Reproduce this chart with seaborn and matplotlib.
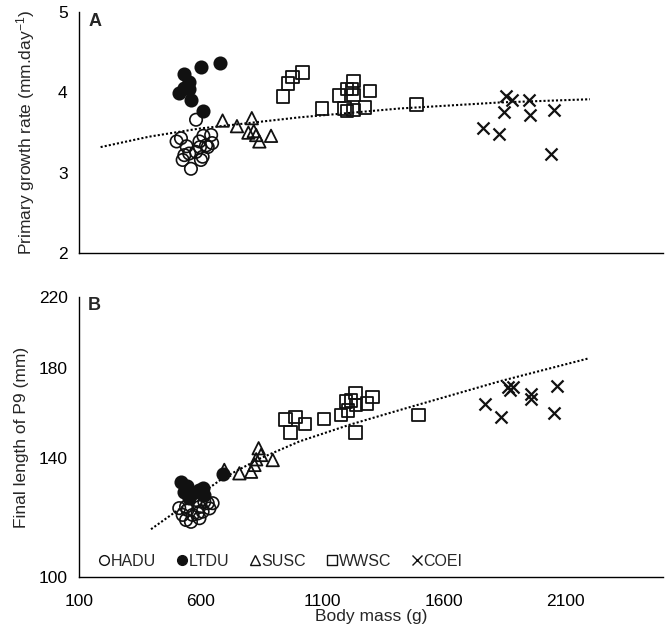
import numpy as np
import pandas as pd
import matplotlib
matplotlib.use("Agg")
import matplotlib.pyplot as plt
from matplotlib.lines import Line2D
from matplotlib.ticker import FixedLocator, FixedFormatter, NullLocator
import seaborn as sns

sns.set_style("white")
plt.rcParams['font.family'] = ['Liberation Sans', 'DejaVu Sans']

# ---------------- Data ----------------
species = ["HADU", "LTDU", "SUSC", "WWSC", "COEI"]

# Panel A: primary growth rate (mm/day)
hadu_mass_a = [582, 502, 520, 543, 596, 612, 644, 648, 598, 630, 534, 554, 582, 527, 609, 602, 561, 623]
hadu_rate_a = [3.66, 3.39, 3.43, 3.33, 3.39, 3.46, 3.47, 3.37, 3.32, 3.32, 3.22, 3.24, 3.26, 3.16, 3.20, 3.16, 3.05, 3.34]

ltdu_mass_a = [682, 602, 534, 551, 534, 554, 513, 561, 612]
ltdu_rate_a = [4.37, 4.31, 4.23, 4.13, 4.06, 4.04, 3.99, 3.91, 3.77]

susc_mass_a = [691, 750, 811, 797, 819, 829, 842, 890]
susc_rate_a = [3.65, 3.58, 3.68, 3.50, 3.52, 3.47, 3.39, 3.46]

wwsc_mass_a = [1020, 979, 959, 938, 1100, 1229, 1201, 1222, 1168, 1229, 1297, 1192, 1201, 1229, 1277, 1487]
wwsc_rate_a = [4.25, 4.19, 4.11, 3.95, 3.80, 4.14, 4.04, 4.04, 3.96, 3.97, 4.02, 3.80, 3.77, 3.78, 3.81, 3.85]

coei_mass_a = [1857, 1880, 1948, 1847, 1952, 2052, 1760, 1825, 2042]
coei_rate_a = [3.95, 3.90, 3.90, 3.76, 3.72, 3.78, 3.56, 3.48, 3.23]

trend_mass_a = [190, 390, 595, 1007, 1418, 1829, 2200]
trend_rate_a = [3.32, 3.45, 3.55, 3.69, 3.80, 3.875, 3.915]

# Panel B: final length of P9 (mm)
hadu_mass_b = [513, 541, 527, 547, 568, 582, 596, 609, 630, 637, 650, 561, 596, 616, 541, 589]
hadu_len_b = [121.4, 117.4, 119.1, 120.8, 119.1, 124.2, 121.8, 120.2, 123.1, 121.3, 123.1, 116.8, 118.0, 123.6, 121.9, 119.6]

ltdu_mass_b = [520, 534, 554, 596, 609, 568, 616, 691, 546]
ltdu_len_b = [130.7, 127.1, 124.8, 127.8, 128.4, 126.6, 126.0, 133.7, 129.2]

susc_mass_b = [698, 760, 808, 822, 839, 849, 829, 897]
susc_len_b = [135.2, 133.9, 134.5, 137.1, 143.7, 141.0, 139.3, 139.0]

wwsc_mass_b = [949, 990, 1029, 970, 1107, 1178, 1207, 1237, 1199, 1219, 1240, 1285, 1306, 1237, 1496]
wwsc_len_b = [155.9, 156.9, 153.9, 150.2, 156.0, 157.8, 159.8, 168.0, 163.9, 164.3, 162.3, 162.9, 165.9, 150.2, 157.8]

coei_mass_b = [1767, 1833, 1863, 1884, 1870, 1959, 1959, 2065, 2052]
coei_len_b = [162.8, 157.0, 170.6, 170.6, 169.3, 167.4, 164.9, 171.4, 158.6]

trend_mass_b = [397, 691, 842, 1007, 1212, 1418, 1829, 2192]
trend_len_b = [114.4, 132.0, 139.5, 146.5, 153.5, 160.0, 173.5, 185.0]

x_ticks = [100, 600, 1100, 1600, 2100]
ya_ticks = [2, 3, 4, 5]
yb_ticks = [100, 140, 180, 220]

# ---------------- Figure ----------------
fig = plt.figure(figsize=(6.67, 6.33), dpi=100)
ax_a = fig.add_axes([0.118, 0.600, 0.876, 0.381])
ax_b = fig.add_axes([0.118, 0.0885, 0.876, 0.4423])

EC = "#111111"
styles = {
    "HADU": dict(marker="o", facecolor="none", edgecolor=EC, s=80, linewidth=1.2),
    "LTDU": dict(marker="o", facecolor=EC, edgecolor=EC, s=80, linewidth=1.2),
    "SUSC": dict(marker="^", facecolor="none", edgecolor=EC, s=80, linewidth=1.3),
    "WWSC": dict(marker="s", facecolor="none", edgecolor=EC, s=80, linewidth=1.3),
    "COEI": dict(marker="x", color=EC, s=75, linewidth=1.6),
}

data_a = {
    "HADU": (hadu_mass_a, hadu_rate_a), "LTDU": (ltdu_mass_a, ltdu_rate_a),
    "SUSC": (susc_mass_a, susc_rate_a), "WWSC": (wwsc_mass_a, wwsc_rate_a),
    "COEI": (coei_mass_a, coei_rate_a),
}
data_b = {
    "HADU": (hadu_mass_b, hadu_len_b), "LTDU": (ltdu_mass_b, ltdu_len_b),
    "SUSC": (susc_mass_b, susc_len_b), "WWSC": (wwsc_mass_b, wwsc_len_b),
    "COEI": (coei_mass_b, coei_len_b),
}

for ax, data in ((ax_a, data_a), (ax_b, data_b)):
    for sp in species:
        xs, ys = data[sp]
        sns.scatterplot(x=xs, y=ys, ax=ax, legend=False, zorder=3, **styles[sp])

sns.lineplot(x=trend_mass_a, y=trend_rate_a, ax=ax_a, color="black",
             linestyle=(0, (1, 1)), linewidth=1.5, estimator=None, sort=False, zorder=2)
sns.lineplot(x=trend_mass_b, y=trend_len_b, ax=ax_b, color="black",
             linestyle=(0, (1, 1)), linewidth=1.5, estimator=None, sort=False, zorder=2)

# Axes formatting
for ax in (ax_a, ax_b):
    ax.set_xlim(100, 2500)
    ax.set_xticks(x_ticks)
    for s in ("top", "right"):
        ax.spines[s].set_visible(False)
    for s in ("left", "bottom"):
        ax.spines[s].set_color("black")
        ax.spines[s].set_linewidth(1.0)
    ax.tick_params(axis="y", direction="out", length=5, width=1.0, labelsize=12.5, colors="black", pad=3)
    ax.tick_params(axis="x", direction="in", length=5, width=1.0, labelsize=12.5, colors="black", pad=12)
    ax.grid(False)

ax_a.set_ylim(2, 5)
ax_a.set_yticks(ya_ticks)
ax_a.set_xticklabels([])
ax_a.tick_params(axis="x", length=0)
ax_a.set_xlabel("")
ax_a.set_ylabel("Primary growth rate (mm.day$\\mathregular{^{-1}}$)", fontsize=12.5, labelpad=15)

ax_b.set_yscale("log")
ax_b.set_ylim(100, 220)
ax_b.yaxis.set_major_locator(FixedLocator(yb_ticks))
ax_b.yaxis.set_major_formatter(FixedFormatter([str(t) for t in yb_ticks]))
ax_b.yaxis.set_minor_locator(NullLocator())
ax_b.set_xlabel("Body mass (g)", fontsize=12.5, labelpad=0)
ax_b.set_ylabel("Final length of P9 (mm)", fontsize=12.5, labelpad=7)

ax_a.text(0.016, 0.995, "A", transform=ax_a.transAxes, fontsize=13, fontweight="bold", va="top", ha="left")
ax_b.text(0.016, 1.0, "B", transform=ax_b.transAxes, fontsize=13, fontweight="bold", va="top", ha="left")

# Legend
mk = dict(linestyle="none", markersize=7, markeredgewidth=1.0)
handles = [
    Line2D([], [], marker="o", markerfacecolor="none", markeredgecolor=EC, **mk),
    Line2D([], [], marker="o", markerfacecolor=EC, markeredgecolor=EC, **mk),
    Line2D([], [], marker="^", markerfacecolor="none", markeredgecolor=EC, **mk),
    Line2D([], [], marker="s", markerfacecolor="none", markeredgecolor=EC, **mk),
    Line2D([], [], marker="x", color=EC, **mk),
]
ax_b.legend(handles, species, ncol=5, loc="center left", bbox_to_anchor=(0.031, 0.057),
            frameon=False, fontsize=11.5, handlelength=0.7, handletextpad=0.08,
            columnspacing=1.25, borderpad=0.1, borderaxespad=0)

fig.savefig("out.png", dpi=100)
